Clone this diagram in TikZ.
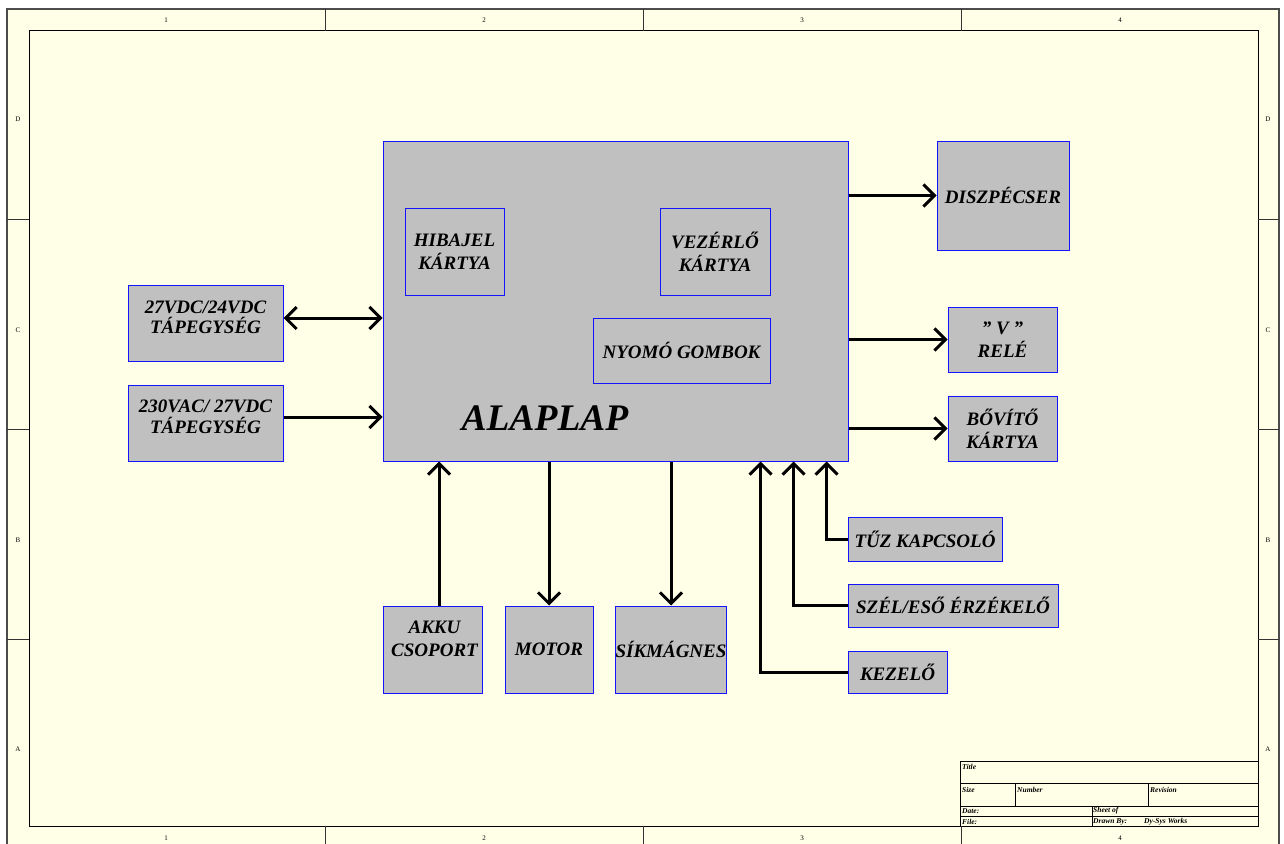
\documentclass[tikz,border=0pt]{standalone}
\usepackage{fontspec}
\setmainfont{Liberation Serif}
\usetikzlibrary{arrows.meta}
\definecolor{paper}{RGB}{255,255,232}
\definecolor{boxgray}{RGB}{192,192,192}
\definecolor{boxblue}{RGB}{20,20,255}
\newcommand{\dq}{\symbol{34}}
\begin{document}
\begin{tikzpicture}[x=1pt,y=-1pt,
  blktext/.style={inner sep=0pt, align=center,
    font=\fontsize{19}{22.7}\selectfont\bfseries\itshape},
  blk/.style={blktext, draw=boxblue, fill=boxgray, line width=1pt},
  conn/.style={line width=3pt, -{Straight Barb[length=11pt,width=22pt,line width=3pt]}},
  dconn/.style={line width=3pt, {Straight Barb[length=11pt,width=22pt,line width=3pt]}-{Straight Barb[length=11pt,width=22pt,line width=3pt]}},
  frameouter/.style={draw=black!70, line width=1.6pt},
  frameinner/.style={draw=black, line width=1pt},
  tick/.style={draw=black!80, line width=1pt},
  zone/.style={font=\fontsize{7}{8}\selectfont, inner sep=0pt},
  tb/.style={font=\fontsize{7.5}{9}\selectfont\bfseries\itshape, inner sep=0pt, anchor=west},
  tbline/.style={draw=black, line width=1pt}]
\useasboundingbox (0,0) rectangle (1284,843);
% drawing frame
\fill[paper] (7,9) rectangle (1279,849);
\draw[frameouter] (7,9) rectangle (1279,849);
\draw[frameinner] (29,31) rectangle (1258,826);
\foreach \x in {325,643,961} {
  \draw[tick] (\x,9) -- (\x,31);
  \draw[tick] (\x,826) -- (\x,849);
}
\foreach \y in {219,429,639} {
  \draw[tick] (7,\y) -- (29,\y);
  \draw[tick] (1258,\y) -- (1279,\y);
}
\foreach \n/\x in {1/166,2/484,3/802,4/1120} {
  \node[zone] (coltop\n) at (\x,20) {\n};
  \node[zone] (colbot\n) at (\x,838) {\n};
}
\foreach \n/\y in {D/119,C/330,B/540,A/749} {
  \node[zone] (rowl\n) at (18,\y) {\n};
  \node[zone] (rowr\n) at (1268,\y) {\n};
}
% title block
\draw[tbline] (960,761) -- (960,826);
\foreach \y in {761,783,806,816} { \draw[tbline] (960,\y) -- (1258,\y); }
\draw[tbline] (1015,783) -- (1015,806);
\draw[tbline] (1148,783) -- (1148,806);
\draw[tbline] (1092,806) -- (1092,826);
\node[tb] (tbtitle) at (962,767) {Title};
\node[tb] (tbsize) at (962,790) {Size};
\node[tb] (tbnumber) at (1017,790) {Number};
\node[tb] (tbrev) at (1150,790) {Revision};
\node[tb] (tbdate) at (962,811) {Date:};
\node[tb] (tbsheet) at (1093,811) {Sheet of};
\node[tb] (tbfile) at (962,821.5) {File:};
\node[tb] (tbdrawn) at (1093,821.5) {Drawn By:};
\node[tb] (tbworks) at (1144,821.5) {Dy-Sys Works};
% main board
\node[blk, minimum width=465pt, minimum height=320pt] (alaplap) at (615.5,301) {};
\node[font=\fontsize{37.5}{40}\selectfont\bfseries\itshape, inner sep=0pt] (alaplaplabel) at (545,418) {ALAPLAP};
\node[blk, minimum width=99pt, minimum height=87pt] (hibajel) at (454.5,251.5) {HIBAJEL\\KÁRTYA};
\node[blk, minimum width=110pt, minimum height=87pt] (vezerlo) at (715,251.5) {VEZÉRLŐ\\KÁRTYA};
\node[blk, minimum width=177pt, minimum height=65pt] (nyomo) at (681.5,350.5) {NYOMÓ GOMBOK};
% left
\node[blk, minimum width=155pt, minimum height=76pt,
  label={[blktext, name=tap27text, font=\fontsize{19}{20.5}\selectfont\bfseries\itshape, yshift=5.5pt]center:27VDC/24VDC\\TÁPEGYSÉG}] (tap27) at (205.5,323) {};
\node[blk, minimum width=155pt, minimum height=76pt,
  label={[blktext, name=tap230text, font=\fontsize{19}{21}\selectfont\bfseries\itshape, yshift=6pt]center:230VAC/ 27VDC\\TÁPEGYSÉG}] (tap230) at (205.5,423) {};
% right
\node[blk, minimum width=132pt, minimum height=109pt] (disz) at (1003,195.5) {DISZPÉCSER};
\node[blk, minimum width=109pt, minimum height=65pt] (vrele) at (1002.5,339.5) {\dq{} V \dq\\RELÉ};
\node[blk, minimum width=109pt, minimum height=65pt] (bovito) at (1002.5,428.5) {BŐVÍTŐ\\KÁRTYA};
% bottom right
\node[blk, minimum width=154pt, minimum height=44pt] (tuz) at (925,539) {TŰZ KAPCSOLÓ};
\node[blk, minimum width=210pt, minimum height=43pt] (szel) at (953,605.5) {SZÉL/ESŐ ÉRZÉKELŐ};
\node[blk, minimum width=99pt, minimum height=42pt] (kezelo) at (897.5,672) {KEZELŐ};
% bottom
\node[blk, minimum width=99pt, minimum height=87pt,
  label={[blktext, name=akkutext, yshift=10.5pt, xshift=2pt]center:AKKU\\CSOPORT}] (akku) at (432.5,649.5) {};
\node[blk, minimum width=88pt, minimum height=87pt] (motor) at (549,649.5) {MOTOR};
\node[blk, minimum width=110pt, minimum height=87pt] (sikm) at (671,649.5) {SÍKMÁGNES};
% connectors
\draw[dconn] (tap27.east |- 0,318) -- (alaplap.west |- 0,318);
\draw[conn] (tap230.east |- 0,417) -- (alaplap.west |- 0,417);
\draw[conn] (alaplap.east |- disz.west) -- (disz.west);
\draw[conn] (alaplap.east |- vrele.west) -- (vrele.west);
\draw[conn] (alaplap.east |- bovito.west) -- (bovito.west);
\draw[conn] ([xshift=6.5pt]akku.north) -- ([xshift=6.5pt]akku.north |- alaplap.south);
\draw[conn] (alaplap.south -| motor.north) -- (motor.north);
\draw[conn] (alaplap.south -| sikm.north) -- (sikm.north);
\draw[conn] (tuz.west) -| ([xshift=-22pt]alaplap.south east);
\draw[conn] (szel.west) -| ([xshift=-55pt]alaplap.south east);
\draw[conn] (kezelo.west) -| ([xshift=-88pt]alaplap.south east);
\end{tikzpicture}
\end{document}
